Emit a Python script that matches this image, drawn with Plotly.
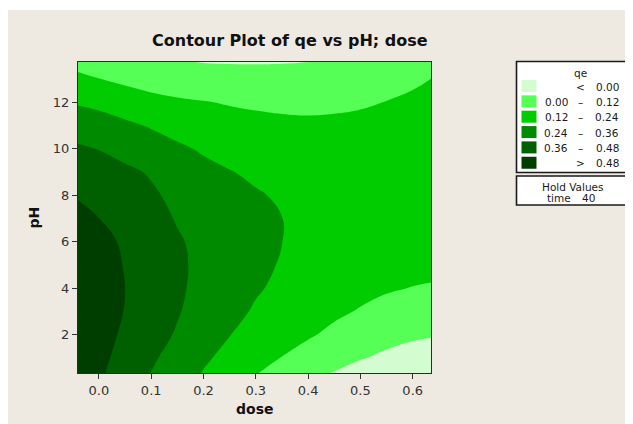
import plotly.graph_objects as go

# ---------------- data ----------------
dose_values = [-0.04, 0.0, 0.05, 0.1, 0.15, 0.2, 0.25, 0.3, 0.35, 0.4, 0.45, 0.5, 0.55, 0.6, 0.635]
ph_values = [0.36, 1, 2, 3, 4, 5, 6, 7, 8, 9, 10, 11, 12, 13, 13.72]

# estimated qe along each pH row (one value per dose column)
qe_ph_0 = [0.560, 0.497, 0.427, 0.358, 0.296, 0.234, 0.180, 0.125, 0.081, 0.037, -0.006, -0.045, -0.066, -0.093, -0.103]
qe_ph_1 = [0.568, 0.508, 0.443, 0.377, 0.315, 0.258, 0.205, 0.152, 0.117, 0.075, 0.038, 0.007, -0.022, -0.047, -0.057]
qe_ph_2 = [0.578, 0.522, 0.462, 0.402, 0.350, 0.290, 0.243, 0.190, 0.160, 0.132, 0.095, 0.068, 0.038, 0.017, 0.008]
qe_ph_3 = [0.585, 0.532, 0.476, 0.419, 0.368, 0.315, 0.270, 0.229, 0.195, 0.168, 0.140, 0.112, 0.088, 0.071, 0.064]
qe_ph_4 = [0.586, 0.535, 0.481, 0.428, 0.375, 0.332, 0.288, 0.250, 0.220, 0.196, 0.175, 0.150, 0.130, 0.117, 0.111]
qe_ph_5 = [0.575, 0.530, 0.474, 0.428, 0.376, 0.338, 0.296, 0.260, 0.234, 0.214, 0.198, 0.178, 0.1615, 0.1525, 0.148]
qe_ph_6 = [0.555, 0.512, 0.465, 0.418, 0.370, 0.335, 0.296, 0.264, 0.2405, 0.224, 0.212, 0.196, 0.184, 0.179, 0.177]
qe_ph_7 = [0.515, 0.481, 0.440, 0.397, 0.353, 0.322, 0.288, 0.260, 0.2405, 0.227, 0.218, 0.205, 0.197, 0.196, 0.196]
qe_ph_8 = [0.470, 0.440, 0.410, 0.375, 0.335, 0.297, 0.270, 0.249, 0.228, 0.222, 0.216, 0.207, 0.201, 0.2035, 0.206]
qe_ph_9 = [0.421, 0.400, 0.380, 0.350, 0.300, 0.265, 0.244, 0.222, 0.210, 0.207, 0.205, 0.200, 0.195, 0.2018, 0.207]
qe_ph_10 = [0.375, 0.357, 0.325, 0.295, 0.255, 0.229, 0.205, 0.190, 0.182, 0.180, 0.180, 0.180, 0.180, 0.1906, 0.199]
qe_ph_11 = [0.304, 0.293, 0.260, 0.230, 0.205, 0.183, 0.160, 0.148, 0.142, 0.140, 0.143, 0.148, 0.156, 0.170, 0.182]
qe_ph_12 = [0.229, 0.210, 0.180, 0.155, 0.135, 0.124, 0.112, 0.104, 0.097, 0.093, 0.097, 0.107, 0.122, 0.140, 0.156]
qe_ph_13 = [0.145, 0.121, 0.095, 0.070, 0.060, 0.050, 0.045, 0.040, 0.040, 0.040, 0.048, 0.062, 0.079, 0.101, 0.120]
qe_ph_top = [0.084, 0.062, 0.040, 0.022, 0.007, -0.003, -0.006, -0.0065, -0.005, -0.0005, 0.010, 0.030, 0.045, 0.066, 0.089]

qe_grid = [qe_ph_0, qe_ph_1, qe_ph_2, qe_ph_3, qe_ph_4, qe_ph_5, qe_ph_6, qe_ph_7,
           qe_ph_8, qe_ph_9, qe_ph_10, qe_ph_11, qe_ph_12, qe_ph_13, qe_ph_top]

level_start = 0.0
level_end = 0.48
level_step = 0.12

legend_left = ["", "0.00", "0.12", "0.24", "0.36", ""]
legend_mid = ["<", "\u2013", "\u2013", "\u2013", "\u2013", ">"]
legend_right = ["0.00", "0.12", "0.24", "0.36", "0.48", "0.48"]
band_colors = ["#d3fdd0", "#55ff55", "#00cc00", "#008a00", "#006000", "#003e00"]

x_ticks = [0.0, 0.1, 0.2, 0.3, 0.4, 0.5, 0.6]
x_ticktext = ["0.0", "0.1", "0.2", "0.3", "0.4", "0.5", "0.6"]
y_ticks = [2, 4, 6, 8, 10, 12]

hold_name = "time"
hold_value = "40"

# ---------------- layout geometry ----------------
# The page body has an 8 px default margin, so the figure starts at page (8, 8).
OFF = 8
W, H = 633 + OFF, 424 + OFF
ML, MT = 70, 54
PW, PHt = 353, 311
MR = W - ML - PW
MB = H - MT - PHt


def fx(px):
    """page pixel x -> paper x"""
    return (px - OFF - ML) / PW


def fy(py):
    """page pixel y -> paper y"""
    return (MT + PHt - (py - OFF)) / PHt


FONT = "DejaVu Sans"
BG = "#eeeae2"
TXT = "#1a1a1a"

n = len(band_colors)
colorscale = [[i / (n - 1), c] for i, c in enumerate(band_colors)]

fig = go.Figure()
fig.add_trace(go.Contour(
    x=dose_values, y=ph_values, z=qe_grid,
    autocontour=False,
    contours=dict(start=level_start, end=level_end, size=level_step,
                  coloring="fill", showlines=False),
    colorscale=colorscale,
    showscale=False,
    line=dict(width=0, smoothing=1.3),
    hoverinfo="skip",
))

shapes = []
# beige page background (white strip at top and left)
shapes.append(dict(type="rect", xref="paper", yref="paper", layer="below",
                   x0=fx(7), x1=fx(660), y0=fy(450), y1=fy(10),
                   fillcolor=BG, line=dict(width=0)))
# legend boxes
shapes.append(dict(type="rect", xref="paper", yref="paper",
                   x0=fx(516.5), x1=fx(629), y0=fy(172.5), y1=fy(61.5),
                   fillcolor="white", line=dict(color=TXT, width=1.6)))
shapes.append(dict(type="rect", xref="paper", yref="paper",
                   x0=fx(516.5), x1=fx(629), y0=fy(205), y1=fy(176),
                   fillcolor="white", line=dict(color=TXT, width=1.6)))

annotations = []


def label(px, py, text, size=10, anchor="center", angle=0, color=TXT):
    annotations.append(dict(x=fx(px), y=fy(py), xref="paper", yref="paper",
                            text=text, xanchor=anchor, yanchor="middle",
                            showarrow=False, textangle=angle,
                            font=dict(family=FONT, size=size, color=color)))


pitch = 15.35
for i in range(n):
    top = 80 + pitch * i
    shapes.append(dict(type="rect", xref="paper", yref="paper",
                       x0=fx(521.5), x1=fx(536.5), y0=fy(top + 12), y1=fy(top),
                       fillcolor=band_colors[i], line=dict(width=0)))
    yc = 86.5 + pitch * i
    if legend_left[i]:
        label(570, yc, legend_left[i], anchor="right", size=10.5)
    label(580, yc, legend_mid[i], size=10.5)
    label(620.5, yc, legend_right[i], anchor="right", size=10.5)

label(580, 73, "qe", size=10.5)
label(573, 186.5, "Hold Values", size=10.5)
label(559, 197.5, hold_name, size=10.5)
label(588.5, 197.5, hold_value, size=10.5)

# title and axis titles
label(290, 40, "<b>Contour Plot of qe vs pH; dose</b>", size=16, color="#111111")
label(254.5, 409, "<b>dose</b>", size=14, color="#111111")
label(33, 217.5, "<b>pH</b>", size=14, angle=-90, color="#111111")

fig.update_layout(
    width=W, height=H,
    margin=dict(l=ML, r=MR, t=MT, b=MB, pad=0),
    paper_bgcolor="white",
    plot_bgcolor=BG,
    showlegend=False,
    shapes=shapes,
    annotations=annotations,
    xaxis=dict(range=[dose_values[0], dose_values[-1]], tickvals=x_ticks, ticktext=x_ticktext,
               ticks="outside", ticklen=5, tickcolor="#333333", tickwidth=1,
               showline=True, linecolor="#2a2a2a", linewidth=1.3, mirror=True,
               showgrid=False, zeroline=False,
               tickfont=dict(family=FONT, size=13, color="#333333")),
    yaxis=dict(range=[ph_values[0], ph_values[-1]], tickvals=y_ticks,
               ticks="outside", ticklen=5, tickcolor="#333333", tickwidth=1,
               showline=True, linecolor="#2a2a2a", linewidth=1.3, mirror=True,
               showgrid=False, zeroline=False,
               tickfont=dict(family=FONT, size=13, color="#333333")),
)

fig.write_html("out.html")
